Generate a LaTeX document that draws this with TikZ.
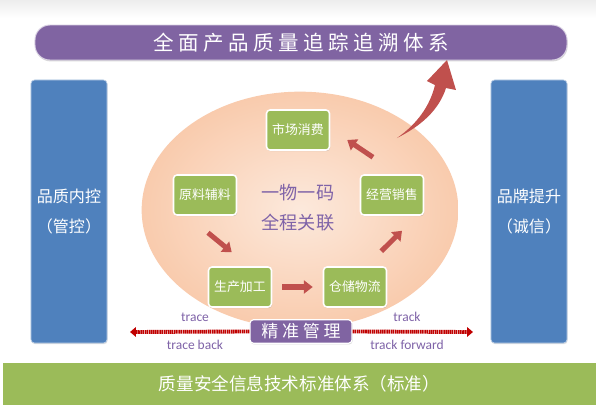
\documentclass[tikz,border=0pt]{standalone}
\usepackage{fontspec}
\setmainfont{Carlito}
\newfontfamily\cjk{Noto Sans CJK SC}
\newfontfamily\cjkspaced[LetterSpace=22]{Noto Sans CJK SC}
\usetikzlibrary{arrows.meta,shapes.geometric,shadows}
\definecolor{titlepurple}{HTML}{8064A2}
\definecolor{boxblue}{HTML}{4F81BD}
\definecolor{leafgreen}{HTML}{9BBB59}
\definecolor{arrowred}{HTML}{C0504D}
\definecolor{dashred}{HTML}{C00000}
\definecolor{textpurple}{HTML}{7F63A8}
\definecolor{peachin}{HTML}{FCE9DC}
\definecolor{peachmid}{HTML}{F9CBAD}
\definecolor{peachout}{HTML}{F4A677}
\pgfdeclareradialshading{peach}{\pgfpoint{0bp}{0bp}}{color(0bp)=(peachin); color(25bp)=(peachmid); color(50bp)=(peachout); color(100bp)=(peachout)}
\begin{document}
\begin{tikzpicture}[x=0.03cm, y=-0.03cm,
    banner/.style={fill=titlepurple, draw=titlepurple!30, line width=0.8pt, rounded corners=0.45cm, minimum width=15.96cm, minimum height=1.05cm, text=white, font=\cjkspaced\fontsize{17.5}{20}\selectfont, drop shadow={opacity=0.3, shadow xshift=0.5pt, shadow yshift=-1.2pt}},
    pillar/.style={fill=boxblue, draw=boxblue!40, line width=0.6pt, rounded corners=3pt, minimum width=2.28cm, minimum height=7.89cm, text=white, align=center, font=\cjk\fontsize{13.7}{25}\selectfont, drop shadow={opacity=0.25, shadow xshift=0.5pt, shadow yshift=-1pt}},
    ring/.style={ellipse, shading=peach, minimum width=9.5cm, minimum height=7.1cm},
    stage/.style={fill=leafgreen, draw=white, line width=1.3pt, rounded corners=3pt, minimum width=1.89cm, minimum height=1.2cm, text=white, font=\cjk\fontsize{11}{12}\selectfont, drop shadow={opacity=0.3, shadow xshift=0.6pt, shadow yshift=-1pt}},
    motto/.style={text=textpurple, align=center, font=\cjk\fontsize{15.5}{25.6}\selectfont},
    flow/.style={draw=arrowred, line width=4.3pt, -{Triangle[width=11pt, length=7.5pt]}},
    trackline/.style={draw=dashred, line width=3.3pt, dash pattern=on 1.3pt off 0.5pt, -{Triangle[width=8pt, length=5pt]}},
    tag/.style={fill=titlepurple, draw=white, line width=1pt, rounded corners=3pt, minimum width=3.06cm, minimum height=0.69cm, text=white, font=\cjkspaced\fontsize{14.5}{16}\selectfont, drop shadow={opacity=0.3, shadow xshift=0.5pt, shadow yshift=-1pt}},
    note/.style={text=textpurple, font=\fontsize{11.5}{13}\selectfont},
    base/.style={fill=leafgreen, minimum width=17.79cm, minimum height=1.26cm, text=white, font=\cjk\fontsize{15}{18}\selectfont}]
    \fill[white] (0, 0) rectangle (596, 408);
    \shade[top color=black!7, bottom color=white] (0, 0) rectangle (596, 18);

    \node[banner] (title) at (301, 42.5) {全面产品质量追踪追溯体系};

    \node[pillar] (neikong) at (69, 211.5) {品质内控\\（管控）};
    \node[pillar] (pinpai) at (529, 211.5) {品牌提升\\（诚信）};

    \node[ring] (ring) at (300, 210) {};

    \fill[arrowred] (397, 138) .. controls (421, 126) and (439, 110) .. (446, 88)
        -- (456, 90) -- (447, 60) -- (427, 81) -- (435, 85)
        .. controls (430, 106) and (417, 124) .. (397, 138) -- cycle;

    \node[stage] (shichang) at (298, 130) {市场消费};
    \node[stage] (yuanliao) at (205, 195) {原料辅料};
    \node[stage] (jingying) at (392, 195) {经营销售};
    \node[stage] (shengchan) at (240, 287) {生产加工};
    \node[stage] (cangchu) at (355, 287) {仓储物流};

    \node[motto] (motto) at (298, 208) {一物一码\\全程关联};

    \draw[flow] ([shift={(3, 17)}]yuanliao.south) -- ([shift={(24, -14)}]shengchan.north west);
    \draw[flow, shorten <=0.3cm, shorten >=0.3cm] (shengchan) -- (cangchu);
    \draw[flow] ([shift={(-6, -15)}]cangchu.north east) -- ([shift={(10, 15)}]jingying.south);
    \draw[flow] ([shift={(-19, -17)}]jingying.north) -- ([shift={(17, 10)}]shichang.east);

    \coordinate (backend) at (130, 332);
    \coordinate (fwdend) at (473, 332);
    \node[tag] (jingzhun) at (301, 331.5) {精准管理};
    \draw[trackline] (jingzhun.west) -- (backend);
    \draw[trackline] (jingzhun.east) -- (fwdend);

    \node[note] (trace) at (195, 317) {trace};
    \node[note] (track) at (407, 317) {track};
    \node[note] (traceback) at (195, 345) {trace back};
    \node[note] (trackfwd) at (407, 345) {track forward};

    \node[base] (biaozhun) at (299.5, 384) {质量安全信息技术标准体系（标准）};
\end{tikzpicture}
\end{document}
